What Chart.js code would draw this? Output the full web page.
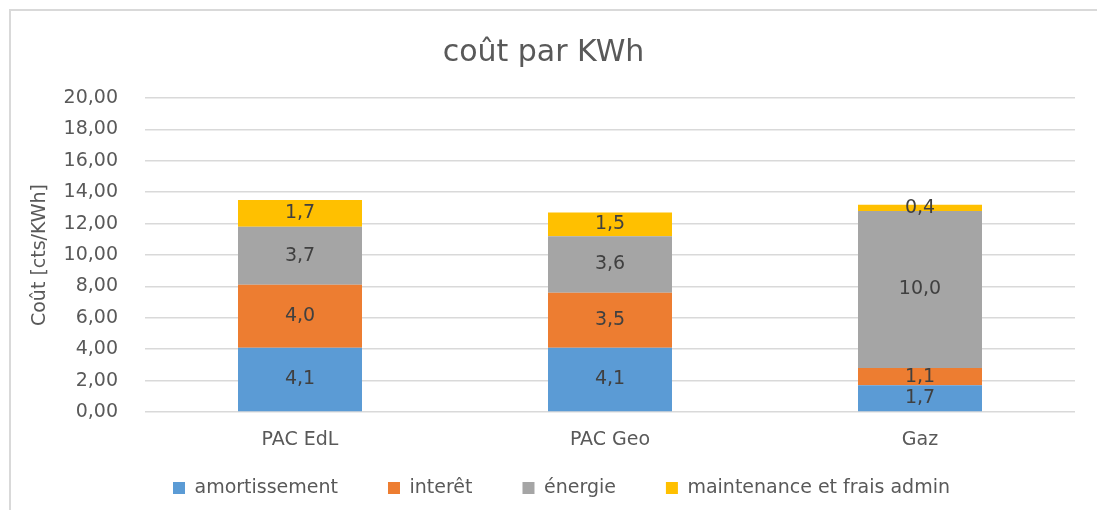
<!DOCTYPE html>
<html>
<head>
<meta charset="utf-8">
<script src="https://cdn.jsdelivr.net/npm/chart.js@4/dist/chart.umd.min.js"></script>
<style>
  html, body { margin: 0; padding: 0; background: #fff; overflow: hidden; }
  canvas { display: block; }
</style>
</head>
<body>
<canvas id="c" width="1097" height="510"></canvas>
<script>
const categories = ["PAC EdL", "PAC Geo", "Gaz"];
const seriesNames = ["amortissement", "interêt", "énergie", "maintenance et frais admin"];
const amortissement = [4.1, 4.1, 1.7];
const interet = [4.0, 3.5, 1.1];
const energie = [3.7, 3.6, 10.0];
const maintenance = [1.7, 1.5, 0.4];
const yTicks = [0, 2, 4, 6, 8, 10, 12, 14, 16, 18, 20];
const colors = ["#5b9bd5", "#ed7d31", "#a5a5a5", "#ffc000"];

const FONT = "'DejaVu Sans', 'Noto Sans', sans-serif";
const fmt2 = v => v.toFixed(2).replace('.', ',');
const fmt1 = v => v.toFixed(1).replace('.', ',');

const LEGEND_PAD = 50;

const labelPlugin = {
  id: 'barLabels',
  afterDatasetsDraw(chart) {
    const ctx = chart.ctx;
    ctx.save();
    ctx.font = "19px " + FONT;
    ctx.fillStyle = "#404040";
    ctx.textAlign = "center";
    ctx.textBaseline = "middle";
    chart.data.datasets.forEach((ds, i) => {
      const meta = chart.getDatasetMeta(i);
      meta.data.forEach((bar, j) => {
        const v = ds.data[j];
        const y = (bar.y + bar.base) / 2;
        ctx.fillText(fmt1(v), bar.x, y);
      });
    });
    ctx.restore();
  }
};

// chart-area frame (only top and left edges are visible in the reference crop)
const framePlugin = {
  id: 'frame',
  beforeDraw(chart) {
    const ctx = chart.ctx;
    ctx.save();
    ctx.strokeStyle = "#d9d9d9";
    ctx.lineWidth = 2;
    ctx.beginPath();
    ctx.moveTo(10, chart.height + 5);
    ctx.lineTo(10, 10);
    ctx.lineTo(chart.width + 5, 10);
    ctx.stroke();
    ctx.restore();
  }
};

// wide horizontal gaps between legend items, without a tall legend box
const legendFitPlugin = {
  id: 'legendFit',
  beforeLayout(chart) {
    const lg = chart.legend;
    if (lg && !lg._patched) {
      const orig = lg.fit;
      lg.fit = function () { orig.call(this); this.height = 48; };
      lg._patched = true;
    }
  },
  beforeDraw(chart) {
    const lg = chart.legend;
    if (lg) {
      lg.top = 488 - LEGEND_PAD - 9.5;
      if (!lg._shifted) { lg.left += 18; lg.right += 18; lg._shifted = true; }
    }
  }
};

const dataArrays = [amortissement, interet, energie, maintenance];

new Chart(document.getElementById('c'), {
  type: 'bar',
  data: {
    labels: categories,
    datasets: seriesNames.map((n, i) => ({
      label: n,
      data: dataArrays[i],
      backgroundColor: colors[i],
      borderWidth: 0,
      categoryPercentage: 1.0,
      barPercentage: 0.4
    }))
  },
  options: {
    responsive: false,
    animation: false,
    devicePixelRatio: 1,
    layout: { padding: { left: 12, right: 22, top: 26, bottom: 2 } },
    plugins: {
      title: {
        display: true,
        text: "coût par KWh",
        color: "#595959",
        font: { family: FONT, size: 30, weight: 'normal' },
        padding: { top: 9, bottom: 27 }
      },
      legend: {
        display: true,
        position: 'bottom',
        labels: {
          color: "#595959",
          font: { family: FONT, size: 19 },
          boxWidth: 12,
          boxHeight: 12,
          padding: LEGEND_PAD
        }
      },
      tooltip: { enabled: false }
    },
    scales: {
      x: {
        stacked: true,
        grid: { display: false, drawTicks: false },
        border: { display: false },
        ticks: { color: "#595959", font: { family: FONT, size: 19 }, padding: 17 },
        afterFit(scale) { scale.height = 48; }
      },
      y: {
        stacked: true,
        min: 0,
        max: 20,
        afterBuildTicks(scale) { scale.ticks = yTicks.map(v => ({ value: v })); },
        grid: { color: "#d9d9d9", lineWidth: 1.5, drawTicks: false },
        border: { display: false },
        ticks: { color: "#595959", font: { family: FONT, size: 19 }, padding: 27, callback: v => fmt2(v) },
        title: {
          display: true,
          text: "Coût [cts/KWh]",
          color: "#595959",
          font: { family: FONT, size: 19 },
          padding: { top: 17, bottom: 0 }
        },
        afterFit(scale) { scale.width = 133; }
      }
    }
  },
  plugins: [framePlugin, labelPlugin, legendFitPlugin]
});
</script>
</body>
</html>
